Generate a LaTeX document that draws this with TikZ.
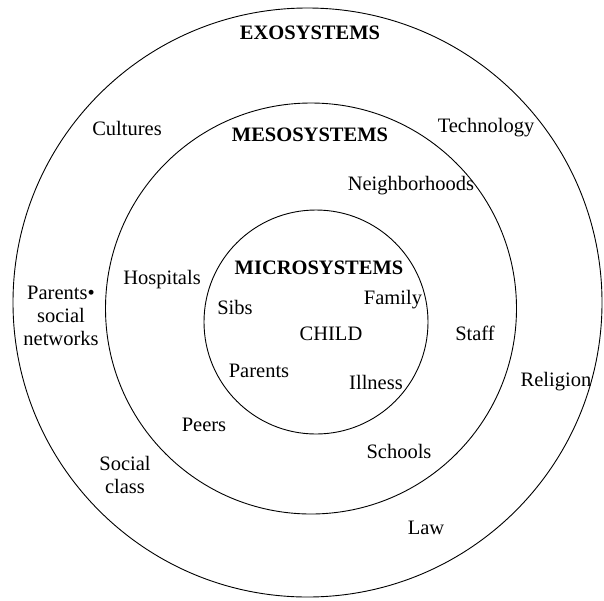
\documentclass[tikz,border=0pt]{standalone}
\usepackage{fontspec}
\setmainfont{Liberation Serif}
\begin{document}
\begin{tikzpicture}[x=1pt,y=-1pt,
  ring/.style={draw=black,line width=0.9pt},
  lbl/.style={font=\fontsize{20.5}{23}\selectfont,inner sep=0pt,align=center},
  head/.style={font=\fontsize{20.5}{23}\selectfont\bfseries,inner sep=0pt}]
\useasboundingbox (0,0) rectangle (604,600);
% nested system rings
\draw[ring] (307.5,302.5) circle (294.5);
\draw[ring] (311,308.5) circle (205.5);
\draw[ring] (316,322) circle (112);
% ring titles
\node[head] (exo) at (310,33) {EXOSYSTEMS};
\node[head] (meso) at (310,135) {MESOSYSTEMS};
\node[head] (micro) at (319,268) {MICROSYSTEMS};
% exosystem entries
\node[lbl] (cult) at (127,128) {Cultures};
\node[lbl] (tech) at (486,128) {Technology};
\node[lbl] (pnet) at (61,316) {Parents\textbullet\\social\\networks};
\node[lbl] (rel) at (556,382) {Religion};
\node[lbl] (soc) at (125,475) {Social\\class};
\node[lbl] (law) at (426,528) {Law};
% mesosystem entries
\node[lbl] (nbh) at (411,186) {Neighborhoods};
\node[lbl] (hosp) at (162,280) {Hospitals};
\node[lbl] (staff) at (475,333) {Staff};
\node[lbl] (peers) at (204,425) {Peers};
\node[lbl] (school) at (399,451) {Schools};
% microsystem entries
\node[lbl] (sibs) at (235,307) {Sibs};
\node[lbl] (fam) at (393,300) {Family};
\node[lbl] (child) at (331,334) {CHILD};
\node[lbl] (par) at (259,371) {Parents};
\node[lbl] (ill) at (376,382) {Illness};
\end{tikzpicture}
\end{document}
